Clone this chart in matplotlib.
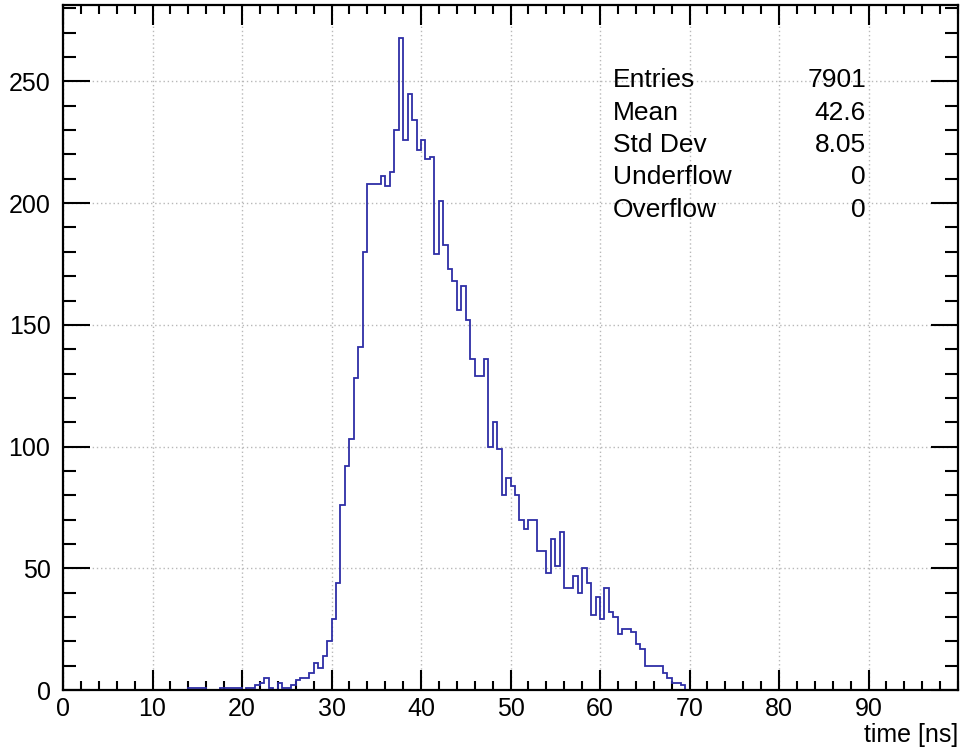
import numpy as np
import matplotlib
matplotlib.use('Agg')
from matplotlib import pyplot as plt
from matplotlib.ticker import MultipleLocator

plt.rcParams['font.family'] = ['Liberation Sans', 'DejaVu Sans']

# timing histogram, 0.5 ns bins, first non-empty bin starts at 14 ns
bin_start = 14.0
bin_width = 0.5
counts = [1, 1, 1, 1, 0, 0, 0, 1, 1, 1,          # 14.0 - 18.5
          1, 1, 0, 1, 1, 2, 3, 5, 1, 0,          # 19.0 - 23.5
          3, 1, 1, 2, 4, 5, 5, 7, 11, 9,         # 24.0 - 28.5
          14, 20, 29, 44, 76, 92, 103, 128, 141, 180,   # 29.0 - 33.5
          208, 208, 208, 211, 207, 213, 230, 268, 226, 245,  # 34.0 - 38.5
          234, 222, 226, 218, 219, 179, 201, 183, 173, 168,  # 39.0 - 43.5
          156, 166, 152, 136, 129, 129, 136, 100, 110, 99,   # 44.0 - 48.5
          80, 87, 84, 80, 70, 66, 70, 70, 57, 57,            # 49.0 - 53.5
          48, 62, 51, 65, 42, 42, 47, 40, 50, 44,            # 54.0 - 58.5
          31, 38, 29, 42, 32, 30, 23, 25, 25, 24,            # 59.0 - 63.5
          19, 17, 10, 10, 10, 10, 7, 5, 3, 3,                # 64.0 - 68.5
          2, 0]                                              # 69.0 - 69.5

stat_names = ['Entries', 'Mean', 'Std Dev', 'Underflow', 'Overflow']
stat_values = ['7901', '42.6', '8.05', '0', '0']

x_range = (0, 100)
y_top = 268 * 1.05
x_title = 'time [ns]'

edges = bin_start + bin_width * np.arange(len(counts) + 1)

W, H = 967, 750
fig = plt.figure(figsize=(W / 100, H / 100), dpi=100)
ax = fig.add_axes([63 / W, 60 / H, 895 / W, 685 / H])

ax.stairs(counts, edges, color='#2e2ea6', lw=1.3, baseline=0)

ax.set_xlim(*x_range)
ax.set_ylim(0, y_top)
ax.xaxis.set_major_locator(MultipleLocator(10))
ax.xaxis.set_minor_locator(MultipleLocator(2))
ax.yaxis.set_major_locator(MultipleLocator(50))
ax.yaxis.set_minor_locator(MultipleLocator(10))
ax.set_xticks(np.arange(0, 91, 10))

ax.tick_params(which='both', direction='in', top=True, right=True,
               width=1.5, color='black', labelsize=18)
ax.tick_params(axis='x', which='major', length=14.5, pad=5)
ax.tick_params(axis='x', which='minor', length=6.5)
ax.tick_params(axis='y', which='major', length=19.5, pad=9)
ax.tick_params(axis='y', which='minor', length=9.7)
for s in ax.spines.values():
    s.set_linewidth(1.6)

ax.grid(which='major', color='#b8b8b8', linestyle=(0, (1, 2)), lw=1)
ax.set_axisbelow(True)

fig.text(958 / W, 1 - 735 / H, x_title, ha='right', va='center', fontsize=18)

# stats box (no frame)
for i, (name, val) in enumerate(zip(stat_names, stat_values)):
    y = 1 - (80 + 32.5 * i) / H
    fig.text(613 / W, y, name, ha='left', va='center', fontsize=19)
    fig.text(866 / W, y, val, ha='right', va='center', fontsize=19)

fig.savefig('out.png', dpi=100)
